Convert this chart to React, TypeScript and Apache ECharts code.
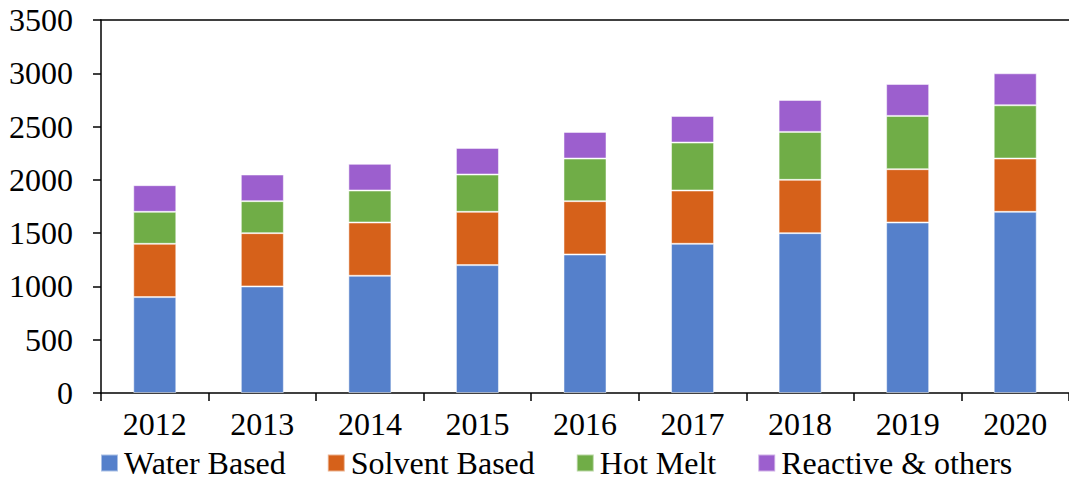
import React, { useEffect, useRef } from "react";
import * as echarts from "echarts";

const categories = ["2012", "2013", "2014", "2015", "2016", "2017", "2018", "2019", "2020"];
const waterBased = [900, 1000, 1100, 1200, 1300, 1400, 1500, 1600, 1700];
const solventBased = [500, 500, 500, 500, 500, 500, 500, 500, 500];
const hotMelt = [300, 300, 300, 350, 400, 450, 450, 500, 500];
const reactiveOthers = [250, 250, 250, 250, 250, 250, 300, 300, 300];
const seriesNames = ["Water Based", "Solvent Based", "Hot Melt", "Reactive & others"];
const colors = ["#5580CB", "#D6611A", "#70AD47", "#9C5FCE"];

const FONT = "Liberation Serif";
const FS = 32;

export default function App() {
  const ref = useRef<HTMLDivElement>(null);
  useEffect(() => {
    if (!ref.current) return;
    const chart = echarts.init(ref.current, undefined, { renderer: "svg" });
    const dataSets = [waterBased, solventBased, hotMelt, reactiveOthers];
    chart.setOption({
      animation: false,
      backgroundColor: "#ffffff",
      textStyle: { fontFamily: FONT, color: "#000" },
      grid: { left: 101, right: 0, top: 20, bottom: 86 },
      legend: {
        left: 95,
        top: 442,
        itemWidth: 17,
        itemHeight: 17,
        itemGap: 41,
        icon: "rect",
        textStyle: { fontFamily: FONT, fontSize: FS, color: "#000", padding: [0, 0, 0, 1] },
        data: seriesNames,
      },
      xAxis: [
        {
          type: "category",
          data: categories,
          axisLine: { show: true, lineStyle: { color: "#000", width: 1.5 } },
          axisTick: { show: true, alignWithLabel: false, length: 8, lineStyle: { color: "#000", width: 1.5 } },
          axisLabel: { fontFamily: FONT, fontSize: FS, color: "#000", margin: 15 },
          splitLine: { show: false },
        },
        {
          type: "category",
          data: categories,
          position: "top",
          axisLine: { show: true, lineStyle: { color: "#000", width: 1.5 } },
          axisTick: { show: false },
          axisLabel: { show: false },
          splitLine: { show: false },
        },
      ],
      yAxis: {
        type: "value",
        min: 0,
        max: 3500,
        interval: 500,
        axisLine: { show: true, lineStyle: { color: "#000", width: 1.5 } },
        axisTick: { show: true, length: 8, lineStyle: { color: "#000", width: 1.5 } },
        axisLabel: {
          fontFamily: FONT,
          fontSize: FS,
          color: "#000",
          margin: 28,
          formatter: (v: number) => String(v),
        },
        splitLine: { show: false },
      },
      series: dataSets.map((d, i) => ({
        name: seriesNames[i],
        type: "bar",
        stack: "total",
        data: d,
        barWidth: "40%",
        itemStyle: { color: colors[i], borderColor: "rgba(255,255,255,0.5)", borderWidth: 1 },
      })),
    });
    return () => chart.dispose();
  }, []);
  return (
    <div
      ref={ref}
      style={{ position: "absolute", left: 0, top: 0, width: 1069, height: 479, background: "#fff" }}
    />
  );
}
